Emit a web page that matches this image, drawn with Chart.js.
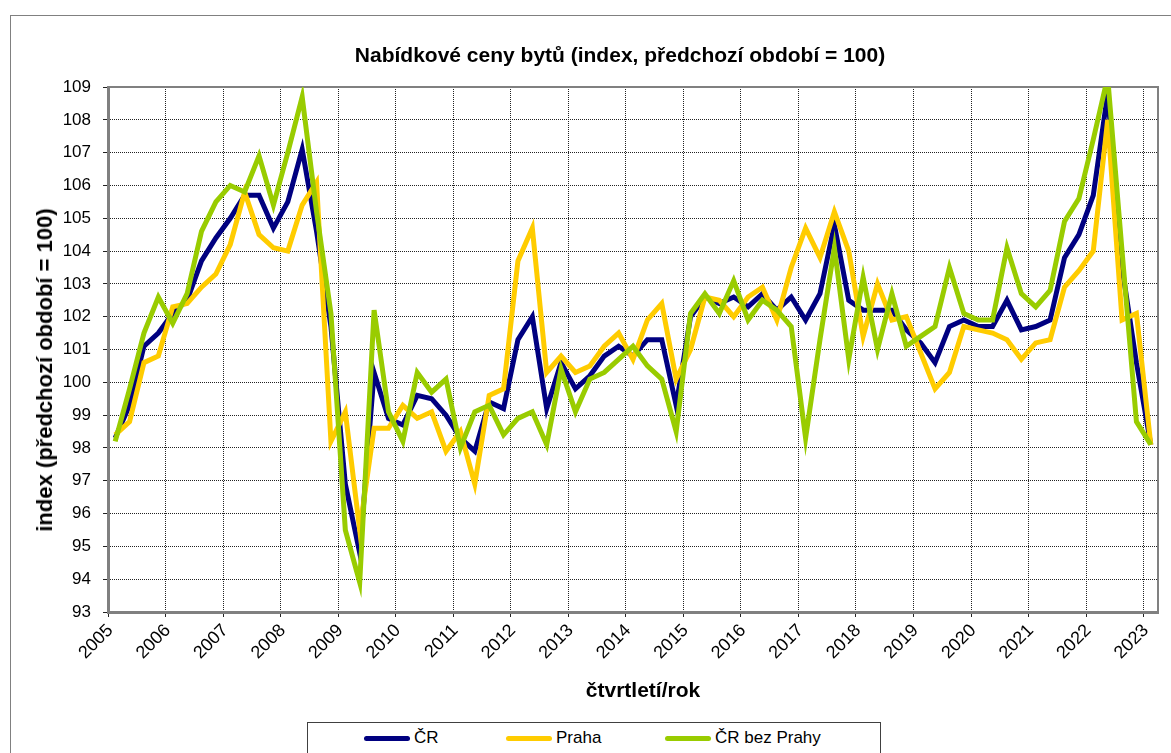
<!DOCTYPE html>
<html>
<head>
<meta charset="utf-8">
<script src="https://cdn.jsdelivr.net/npm/chart.js@4.4.1/dist/chart.umd.min.js"></script>
<style>
  body { margin: 0; background: #fff; font-family: "Liberation Sans", Arial, sans-serif; }
  #wrap { position: relative; width: 1171px; height: 753px; overflow: hidden; }
  #frame { position: absolute; left: 10px; top: 15px; width: 1200px; height: 800px; border: 1px solid #808080; }
  canvas { position: absolute; left: 0; top: 0; }
  .ttl { position: absolute; font-weight: bold; font-size: 21px; line-height: 24px; color: #000; white-space: nowrap; transform: translateX(-50%); }
  #ytitle { position: absolute; left: 45px; top: 370px; font-weight: bold; font-size: 22px; line-height: 26px; color: #000; white-space: nowrap; transform: translate(-50%, -50%) rotate(-90deg); }
  #legend { position: absolute; left: 307px; top: 722px; width: 572px; height: 40px; border: 1px solid #404040; background: #fff; }
  #legend .ln { position: absolute; top: 13px; width: 46px; height: 5px; border-radius: 3px; }
  #legend .tx { position: absolute; top: 5px; font-size: 17px; line-height: 20px; color: #000; white-space: nowrap; }
</style>
</head>
<body>
<div id="wrap">
  <div id="frame"></div>
  <canvas id="chart" width="1171" height="753"></canvas>
  <div class="ttl" style="left:620px; top:43px;">Nabídkové ceny bytů (index, předchozí období = 100)</div>
  <div class="ttl" style="left:643px; top:678px;">čtvrtletí/rok</div>
  <div id="ytitle">index (předchozí období = 100)</div>
  <div id="legend"></div>
</div>
<script>
// years on the axis, one label per first quarter
const years = [2005, 2006, 2007, 2008, 2009, 2010, 2011, 2012, 2013, 2014,
               2015, 2016, 2017, 2018, 2019, 2020, 2021, 2022, 2023];
const quarters = ["Q1", "Q2", "Q3", "Q4"];

// index, previous quarter = 100 (2005 Q1 .. 2023 Q1)
const cr = [98.3, 99.3, 101.1, 101.5, 102.1, 102.5, 103.7, 104.4, 105.0, 105.7,
            105.7, 104.7, 105.5, 107.1, 104.6, 101.7, 96.9, 94.8, 100.3, 98.9,
            98.7, 99.6, 99.5, 99.0, 98.3, 97.9, 99.4, 99.2, 101.3, 102.0,
            99.2, 100.6, 99.8, 100.2, 100.8, 101.1, 100.8, 101.3, 101.3, 99.3,
            102.0, 102.6, 102.4, 102.6, 102.3, 102.7, 102.2, 102.6, 101.9, 102.7,
            104.8, 102.5, 102.2, 102.2, 102.2, 101.6, 101.2, 100.6, 101.7, 101.9,
            101.7, 101.7, 102.5, 101.6, 101.7, 101.9, 103.8, 104.5, 105.7, 108.8,
            103.5, 100.6, 98.1];
const praha = [98.4, 98.8, 100.6, 100.8, 102.3, 102.4, 102.9, 103.3, 104.2, 105.8,
               104.5, 104.1, 104.0, 105.4, 106.1, 98.2, 99.1, 95.5, 98.6, 98.6,
               99.3, 98.9, 99.1, 97.9, 98.5, 96.9, 99.6, 99.8, 103.7, 104.7,
               100.3, 100.8, 100.3, 100.5, 101.1, 101.5, 100.7, 101.9, 102.4, 100.1,
               101.0, 102.6, 102.5, 102.0, 102.6, 102.9, 101.9, 103.5, 104.7, 103.8,
               105.2, 104.0, 101.4, 103.0, 101.9, 102.0, 100.9, 99.8, 100.3, 101.7,
               101.6, 101.5, 101.3, 100.7, 101.2, 101.3, 102.9, 103.4, 104.0, 108.0,
               101.9, 102.1, 98.1];
const crBezPrahy = [98.2, 99.8, 101.5, 102.6, 101.8, 102.7, 104.6, 105.5, 106.0, 105.8,
                    106.9, 105.4, 107.0, 108.7, 105.2, 102.1, 95.5, 93.9, 102.2, 99.1,
                    98.2, 100.3, 99.7, 100.1, 98.0, 99.1, 99.3, 98.4, 98.9, 99.1,
                    98.1, 100.4, 99.1, 100.1, 100.3, 100.7, 101.1, 100.5, 100.1, 98.5,
                    102.1, 102.7, 102.1, 103.1, 101.9, 102.5, 102.2, 101.7, 98.3, 101.3,
                    104.1, 100.7, 103.2, 101.0, 102.7, 101.1, 101.4, 101.7, 103.5, 102.1,
                    101.9, 101.9, 104.1, 102.7, 102.3, 102.8, 104.9, 105.6, 107.4, 109.3,
                    104.0, 98.8, 98.1];

const series = [
  { label: "ČR", data: cr, color: "#000080", order: 3 },
  { label: "Praha", data: praha, color: "#FFCC00", order: 2 },
  { label: "ČR bez Prahy", data: crBezPrahy, color: "#99CC00", order: 1 }
];

// category list: every quarter up to 2023 Q1
const categories = [];
years.forEach(y => quarters.forEach(q => {
  if (categories.length < cr.length) categories.push(q + " " + y);
}));

const FONT = "'Liberation Sans', Arial, sans-serif";
Chart.defaults.font.family = FONT;
Chart.defaults.color = "#000";

// gray frame round the plot area
const plotFrame = {
  id: "plotFrame",
  beforeDatasetsDraw(chart) {
    const a = chart.chartArea;
    const ctx = chart.ctx;
    ctx.save();
    ctx.strokeStyle = "#808080";
    ctx.lineWidth = 2;
    ctx.strokeRect(a.left, a.top, a.right - a.left, a.bottom - a.top);
    ctx.restore();
  }
};

new Chart(document.getElementById("chart"), {
  type: "line",
  data: {
    labels: categories,
    datasets: series.map(s => ({
      label: s.label,
      data: s.data,
      borderColor: s.color,
      backgroundColor: s.color,
      borderWidth: 5,
      pointRadius: 0,
      tension: 0,
      fill: false,
      order: s.order
    }))
  },
  options: {
    responsive: false,
    animation: false,
    layout: { padding: { left: 32, right: 13, top: 87, bottom: 0 } },
    plugins: {
      legend: { display: false },
      title: { display: false },
      tooltip: { enabled: false }
    },
    scales: {
      x: {
        type: "category",
        offset: true,
        grid: {
          offset: true,
          color: ctx => ctx.index % 4 === 0 ? "#222" : "rgba(0,0,0,0)",
          tickLength: 5
        },
        border: { display: true, color: "#808080", width: 3, dash: [1, 1] },
        ticks: {
          autoSkip: false,
          maxRotation: 45,
          minRotation: 45,
          padding: 3,
          labelOffset: -5,
          color: "#000",
          font: { size: 18 },
          callback: (v, i) => i % 4 === 0 ? String(years[i / 4]) : ""
        },
        afterFit: s => { s.height = 141; }
      },
      y: {
        min: 93,
        max: 109,
        grid: { color: "#222", tickLength: 5 },
        border: { display: true, color: "#808080", width: 3, dash: [1, 1] },
        ticks: { stepSize: 1, padding: 12, color: "#000", font: { size: 17 } },
        afterFit: s => { s.width = 76; }
      }
    }
  },
  plugins: [plotFrame]
});

// legend box under the chart
const legendPos = [{ line: 56, text: 106 }, { line: 198, text: 248 }, { line: 357, text: 407 }];
const legend = document.getElementById("legend");
series.forEach((s, i) => {
  const ln = document.createElement("div");
  ln.className = "ln";
  ln.style.left = legendPos[i].line + "px";
  ln.style.background = s.color;
  const tx = document.createElement("div");
  tx.className = "tx";
  tx.style.left = legendPos[i].text + "px";
  tx.textContent = s.label;
  legend.appendChild(ln);
  legend.appendChild(tx);
});
</script>
</body>
</html>
